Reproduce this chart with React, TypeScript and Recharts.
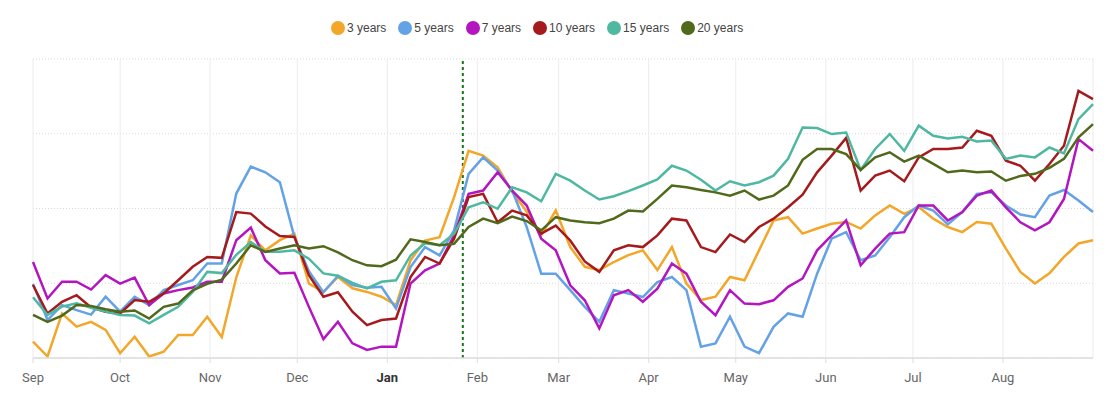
import { CartesianGrid, Line, LineChart, ReferenceLine, XAxis, YAxis } from "recharts";

// day offsets from 1 Sep, one sample every five days
const DAYS = [
    0, 5, 10, 15, 20, 25, 30, 35, 40, 45, 50, 55, 60, 65, 70, 75, 80, 85, 90, 95,
    100, 105, 110, 115, 120, 125, 130, 135, 140, 145, 150, 155, 160, 165, 170, 175, 180, 185, 190, 195,
    200, 205, 210, 215, 220, 225, 230, 235, 240, 245, 250, 255, 260, 265, 270, 275, 280, 285, 290, 295,
    300, 305, 310, 315, 320, 325, 330, 335, 340, 345, 350, 355, 360, 365,
];

const MONTH_STARTS = [0, 30, 61, 91, 122, 153, 181, 212, 242, 273, 303, 334];
const MONTH_LABELS = ["Sep", "Oct", "Nov", "Dec", "Jan", "Feb", "Mar", "Apr", "May", "Jun", "Jul", "Aug"];
const Y_TICKS = [0, 25, 50, 75, 100];
const MARKER_DAY = 148;

const Y3 = [
    5.5, 0.5, 14.9, 10.5, 12.1, 9.4, 1.6, 7.1, 0.5, 2.1, 7.7, 7.7, 13.8, 7, 27, 41, 36, 39.4, 41.6, 24.9,
    22.1, 27.1, 23.3, 22.1, 20.5, 17.7, 32.7, 39.3, 40.4, 53.8, 69.3, 67.7, 63.8, 55.5, 49, 41, 49.4, 37.1, 30.5, 29.4,
    32.1, 34.4, 36, 29.4, 37.1, 24.9, 19.4, 20.5, 27.1, 26, 36, 46, 47.1, 41.6, 43.3, 44.9, 45.5, 43.3, 47.7, 51,
    48.2, 50.5, 46.6, 43.8, 42.1, 45.5, 44.9, 36.6, 28.8, 24.9, 28.3, 33.8, 38.3, 39.4,
];
const Y5 = [
    24.8, 12.7, 17.7, 16, 14.5, 20.5, 15.5, 20.5, 17.7, 22.7, 24.4, 26, 31.6, 31.6, 55, 64, 62.1, 58.8, 40.5, 29,
    22, 27.5, 24.4, 23.5, 23.8, 16.6, 30.4, 37.1, 34.3, 42.7, 61.6, 67.1, 62.7, 56, 43.8, 28.2, 28.2, 22.7, 17.1, 12.1,
    22.7, 21.6, 20.4, 25.4, 27.1, 22.7, 3.8, 4.9, 13.8, 3.8, 1.6, 10.4, 14.9, 13.8, 28.2, 39.9, 42.1, 32.7, 34.3, 40.4,
    47.1, 51, 49.3, 44.7, 48.8, 54.9, 55.4, 51, 48, 47.1, 54.3, 56.2, 52.7, 48.8,
];
const Y7 = [
    32.1, 19.9, 25.5, 25.5, 22.9, 27.7, 24.9, 26.9, 17.7, 21.6, 22.7, 23.6, 25.5, 25.5, 39.4, 43.6, 32.7, 28.3, 28.5, 17.1,
    6.3, 12.1, 4.9, 2.7, 3.8, 3.8, 24.9, 29.3, 31.6, 41, 54.9, 56, 62.1, 56, 51, 39.9, 36, 24.3, 19.3, 9.9,
    21, 22.7, 18.8, 23.2, 31.6, 28.2, 18.8, 14.3, 22.7, 18.2, 18, 19.3, 23.8, 26.6, 36, 41, 46, 31, 36.6, 41.6,
    42.1, 51, 51, 46, 48.8, 54.3, 56, 50.4, 45.4, 42.7, 45.4, 53.2, 73.2, 69.3,
];
const Y10 = [
    24.4, 14.9, 18.8, 21, 16.9, 15.5, 14.9, 19.4, 18.8, 21.6, 26, 30.5, 33.8, 33.5, 48.8, 48.3, 44, 40.8, 40.5, 27.7,
    20.5, 22, 15.5, 11, 12.7, 13.2, 27.1, 33.8, 31.6, 39.9, 53.8, 54.9, 45.4, 49.3, 47.7, 41.6, 44.3, 39.3, 32.3, 28.8,
    36, 37.7, 37.1, 41, 46.6, 46, 37.1, 35.4, 41.3, 38.8, 43.8, 46.6, 50.4, 54.6, 62.1, 67.7, 73.6, 56, 61, 62.7,
    59.1, 67.1, 69.9, 69.9, 70.4, 76, 74.3, 66, 64.3, 59.3, 64.9, 71, 89.3, 86.6,
];
const Y15 = [
    20.3, 14.4, 17.2, 18.3, 16.8, 15.5, 14.4, 14.2, 11.6, 14.4, 17.1, 22.1, 28.8, 28.4, 34.5, 38.8, 35.5, 35.5, 36, 33.2,
    28.3, 27.5, 25.1, 23.3, 25.5, 26, 34.3, 38.4, 37.7, 41.6, 50.4, 52.1, 49.9, 57.1, 55.4, 52.4, 61.6, 59.3, 56, 53,
    54.1, 55.8, 57.7, 59.7, 64.3, 62.7, 59.6, 56, 59.1, 57.7, 58.8, 61, 66.6, 77.1, 76.9, 74.9, 75.4, 62.9, 69.9, 74.9,
    69.3, 77.7, 74.3, 73.4, 74, 72.4, 72.7, 66.6, 67.7, 67.1, 70.4, 68.4, 79.9, 84.9,
];
const Y20 = [
    14.4, 12.1, 14.2, 17.7, 17.4, 16.3, 15.5, 15.9, 13.2, 17.1, 18.2, 22.6, 24.8, 26.2, 31.6, 37.7, 35.5, 36.6, 37.7, 36.6,
    37.4, 35.3, 32.7, 31, 30.7, 32.9, 39.7, 38.8, 37.7, 38.2, 43.8, 46.6, 45.1, 47.3, 45.8, 42.7, 47.1, 46, 45.4, 45.1,
    46.6, 49.3, 49, 53.2, 57.7, 57.1, 56.2, 55.4, 54.3, 56, 53, 54.3, 57.7, 66.3, 69.9, 69.9, 68.2, 62.9, 67.1, 68.8,
    65.7, 67.7, 64.9, 62.1, 62.7, 62.1, 62.4, 59.3, 60.9, 61.6, 63.6, 66.6, 73.8, 78.2,
];

const SERIES = [
    { key: "y3", name: "3 years", color: "#f2a72a", values: Y3 },
    { key: "y5", name: "5 years", color: "#64a2e6", values: Y5 },
    { key: "y7", name: "7 years", color: "#b316bf", values: Y7 },
    { key: "y10", name: "10 years", color: "#a51a1c", values: Y10 },
    { key: "y15", name: "15 years", color: "#4fb8a0", values: Y15 },
    { key: "y20", name: "20 years", color: "#50691a", values: Y20 },
];

const data = DAYS.map((day, i) => {
    const row: Record<string, number> = { day };
    SERIES.forEach((s) => { row[s.key] = s.values[i]; });
    return row;
});

const MonthTick = ({ x, y, payload }: any) => {
    const label = MONTH_LABELS[MONTH_STARTS.indexOf(payload.value)];
    const isYear = label === "Jan";
    return (
        <text
            x={x}
            y={y}
            dy="0.71em"
            textAnchor="middle"
            fontFamily="Roboto, sans-serif"
            fontSize={13}
            fontWeight={isYear ? 700 : 400}
            fill={isYear ? "#333" : "#666"}
        >
            {label}
        </text>
    );
};

const App = () => {
    return (
        <div style={{ position: "absolute", left: 0, top: 0, width: 1108, height: 396, background: "#fff" }}>
            <div
                style={{
                    position: "absolute", left: 331, top: 21, display: "flex", gap: 12,
                    fontFamily: "'Liberation Sans', Arial, sans-serif", fontSize: 12, color: "#444",
                }}
            >
                {SERIES.map((s) => (
                    <div key={s.key} style={{ display: "flex", alignItems: "center", gap: 2 }}>
                        <span style={{ width: 14, height: 14, borderRadius: 7, background: s.color, display: "inline-block" }} />
                        <span>{s.name}</span>
                    </div>
                ))}
            </div>
            <LineChart width={1108} height={396} data={data} margin={{ top: 59, right: 15, bottom: 8, left: 33 }}>
                <CartesianGrid vertical={false} stroke="#d8d8d8" strokeDasharray="1 2" />
                <CartesianGrid horizontal={false} stroke="#ececec" />
                <XAxis
                    dataKey="day"
                    type="number"
                    domain={[0, 365]}
                    ticks={MONTH_STARTS}
                    interval={0}
                    height={30}
                    axisLine={{ stroke: "#dddddd", strokeWidth: 1.5 }}
                    tickLine={{ stroke: "#dddddd" }}
                    tickSize={5}
                    tickMargin={10}
                    tick={<MonthTick />}
                />
                <YAxis hide domain={[0, 100]} ticks={Y_TICKS} />
                <ReferenceLine x={MARKER_DAY} stroke="#16761a" strokeWidth={2} strokeDasharray="3 3" />
                {SERIES.map((s) => (
                    <Line
                        key={s.key}
                        type="linear"
                        dataKey={s.key}
                        name={s.name}
                        stroke={s.color}
                        strokeWidth={2.5}
                        dot={false}
                        isAnimationActive={false}
                    />
                ))}
            </LineChart>
        </div>
    );
};

export default App;
